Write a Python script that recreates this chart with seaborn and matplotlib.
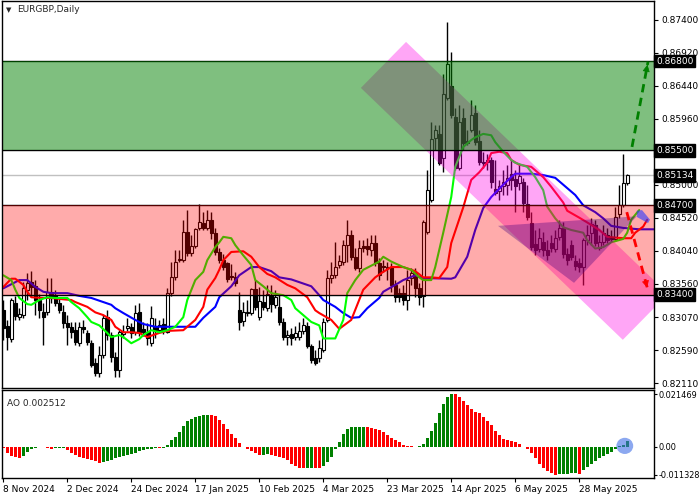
import numpy as np
import matplotlib
matplotlib.use("Agg")
import matplotlib.pyplot as plt
from matplotlib.patches import Polygon, Ellipse
import seaborn as sns

# EURGBP daily candles (bar 0 = 8 Nov 2024)
opens = [0.8317, 0.8294, 0.8275, 0.8328, 0.8307, 0.8310, 0.8347, 0.8358, 0.8352, 0.8332,
         0.8315, 0.8315, 0.8344, 0.8339, 0.8328, 0.8315, 0.8298, 0.8293, 0.8288, 0.8269,
         0.8293, 0.8284, 0.8269, 0.8240, 0.8226, 0.8252, 0.8307, 0.8281, 0.8249, 0.8230,
         0.8282, 0.8291, 0.8293, 0.8285, 0.8315, 0.8290, 0.8285, 0.8269, 0.8293, 0.8288,
         0.8297, 0.8285, 0.8342, 0.8366, 0.8390, 0.8390, 0.8431, 0.8400, 0.8411, 0.8437,
         0.8444, 0.8437, 0.8449, 0.8430, 0.8402, 0.8390, 0.8386, 0.8367, 0.8366, 0.8317,
         0.8301, 0.8313, 0.8313, 0.8348, 0.8307, 0.8329, 0.8320, 0.8339, 0.8325, 0.8322,
         0.8300, 0.8278, 0.8282, 0.8278, 0.8278, 0.8287, 0.8294, 0.8265, 0.8247, 0.8247,
         0.8259, 0.8303, 0.8364, 0.8368, 0.8383, 0.8387, 0.8412, 0.8427, 0.8395, 0.8379,
         0.8411, 0.8411, 0.8405, 0.8415, 0.8386, 0.8381, 0.8380, 0.8380, 0.8354, 0.8342,
         0.8342, 0.8332, 0.8364, 0.8371, 0.8349, 0.8338, 0.8431, 0.8478, 0.8568, 0.8574,
         0.8539, 0.8627, 0.8644, 0.8598, 0.8524, 0.8597, 0.8564, 0.8580, 0.8604, 0.8564,
         0.8533, 0.8533, 0.8536, 0.8494, 0.8491, 0.8498, 0.8500, 0.8516, 0.8508, 0.8502,
         0.8504, 0.8472, 0.8444, 0.8413, 0.8407, 0.8416, 0.8405, 0.8415, 0.8406, 0.8424,
         0.8437, 0.8399, 0.8412, 0.8389, 0.8386, 0.8380, 0.8419, 0.8430, 0.8441, 0.8408,
         0.8416, 0.8427, 0.8424, 0.8421, 0.8458, 0.8470, 0.8502]
highs = [0.8332, 0.8303, 0.8335, 0.8338, 0.8320, 0.8358, 0.8371, 0.8374, 0.8361, 0.8341,
         0.8328, 0.8364, 0.8364, 0.8347, 0.8335, 0.8325, 0.8310, 0.8300, 0.8300, 0.8300,
         0.8303, 0.8288, 0.8274, 0.8247, 0.8265, 0.8310, 0.8317, 0.8285, 0.8256, 0.8288,
         0.8296, 0.8306, 0.8298, 0.8325, 0.8328, 0.8300, 0.8298, 0.8323, 0.8306, 0.8303,
         0.8306, 0.8349, 0.8387, 0.8405, 0.8405, 0.8449, 0.8463, 0.8427, 0.8437, 0.8472,
         0.8460, 0.8463, 0.8460, 0.8437, 0.8408, 0.8399, 0.8387, 0.8384, 0.8373, 0.8344,
         0.8329, 0.8332, 0.8349, 0.8361, 0.8351, 0.8347, 0.8354, 0.8354, 0.8347, 0.8339,
         0.8306, 0.8288, 0.8291, 0.8294, 0.8300, 0.8306, 0.8300, 0.8268, 0.8259, 0.8274,
         0.8306, 0.8376, 0.8387, 0.8416, 0.8397, 0.8419, 0.8449, 0.8434, 0.8408, 0.8419,
         0.8419, 0.8422, 0.8427, 0.8427, 0.8393, 0.8390, 0.8387, 0.8386, 0.8361, 0.8349,
         0.8354, 0.8376, 0.8378, 0.8378, 0.8357, 0.8449, 0.8521, 0.8591, 0.8587, 0.8587,
         0.8661, 0.8737, 0.8693, 0.8612, 0.8616, 0.8612, 0.8580, 0.8623, 0.8616, 0.8580,
         0.8548, 0.8545, 0.8540, 0.8536, 0.8507, 0.8521, 0.8529, 0.8536, 0.8521, 0.8529,
         0.8510, 0.8500, 0.8460, 0.8434, 0.8437, 0.8431, 0.8419, 0.8427, 0.8434, 0.8449,
         0.8446, 0.8408, 0.8419, 0.8397, 0.8393, 0.8422, 0.8441, 0.8451, 0.8449, 0.8427,
         0.8441, 0.8437, 0.8434, 0.8468, 0.8500, 0.8545, 0.8516]
lows = [0.8274, 0.8259, 0.8271, 0.8303, 0.8303, 0.8306, 0.8332, 0.8338, 0.8310, 0.8306,
        0.8266, 0.8310, 0.8328, 0.8323, 0.8313, 0.8291, 0.8266, 0.8276, 0.8266, 0.8265,
        0.8284, 0.8266, 0.8234, 0.8221, 0.8220, 0.8247, 0.8274, 0.8242, 0.8220, 0.8220,
        0.8276, 0.8287, 0.8276, 0.8281, 0.8279, 0.8279, 0.8266, 0.8265, 0.8276, 0.8285,
        0.8282, 0.8284, 0.8338, 0.8361, 0.8387, 0.8387, 0.8396, 0.8396, 0.8408, 0.8434,
        0.8434, 0.8434, 0.8421, 0.8397, 0.8386, 0.8376, 0.8358, 0.8361, 0.8352, 0.8288,
        0.8294, 0.8309, 0.8310, 0.8317, 0.8303, 0.8317, 0.8316, 0.8315, 0.8320, 0.8296,
        0.8274, 0.8266, 0.8266, 0.8274, 0.8274, 0.8282, 0.8262, 0.8240, 0.8237, 0.8242,
        0.8256, 0.8300, 0.8357, 0.8364, 0.8378, 0.8383, 0.8387, 0.8390, 0.8376, 0.8373,
        0.8402, 0.8397, 0.8396, 0.8381, 0.8361, 0.8373, 0.8361, 0.8344, 0.8329, 0.8329,
        0.8325, 0.8317, 0.8354, 0.8336, 0.8325, 0.8322, 0.8428, 0.8475, 0.8551, 0.8529,
        0.8518, 0.8623, 0.8597, 0.8521, 0.8521, 0.8551, 0.8558, 0.8577, 0.8558, 0.8529,
        0.8524, 0.8521, 0.8495, 0.8485, 0.8478, 0.8485, 0.8485, 0.8492, 0.8460, 0.8492,
        0.8460, 0.8449, 0.8405, 0.8397, 0.8402, 0.8396, 0.8390, 0.8402, 0.8402, 0.8419,
        0.8393, 0.8383, 0.8390, 0.8376, 0.8373, 0.8354, 0.8412, 0.8412, 0.8411, 0.8405,
        0.8412, 0.8415, 0.8416, 0.8418, 0.8451, 0.8467, 0.8500]
closes = [0.8291, 0.8278, 0.8332, 0.8309, 0.8312, 0.8349, 0.8357, 0.8351, 0.8332, 0.8317,
          0.8307, 0.8344, 0.8335, 0.8328, 0.8317, 0.8298, 0.8293, 0.8285, 0.8271, 0.8293,
          0.8290, 0.8271, 0.8237, 0.8226, 0.8252, 0.8306, 0.8281, 0.8249, 0.8230, 0.8285,
          0.8285, 0.8294, 0.8284, 0.8313, 0.8285, 0.8285, 0.8276, 0.8306, 0.8288, 0.8296,
          0.8287, 0.8342, 0.8366, 0.8387, 0.8392, 0.8431, 0.8400, 0.8411, 0.8435, 0.8446,
          0.8437, 0.8449, 0.8430, 0.8402, 0.8390, 0.8380, 0.8362, 0.8366, 0.8357, 0.8300,
          0.8315, 0.8315, 0.8348, 0.8322, 0.8331, 0.8322, 0.8341, 0.8326, 0.8336, 0.8300,
          0.8278, 0.8281, 0.8276, 0.8284, 0.8287, 0.8296, 0.8265, 0.8245, 0.8240, 0.8262,
          0.8300, 0.8364, 0.8368, 0.8380, 0.8389, 0.8412, 0.8427, 0.8395, 0.8379, 0.8408,
          0.8408, 0.8406, 0.8415, 0.8386, 0.8368, 0.8380, 0.8379, 0.8354, 0.8336, 0.8336,
          0.8332, 0.8361, 0.8371, 0.8349, 0.8336, 0.8446, 0.8492, 0.8567, 0.8580, 0.8532,
          0.8632, 0.8676, 0.8601, 0.8524, 0.8591, 0.8561, 0.8561, 0.8601, 0.8562, 0.8533,
          0.8532, 0.8536, 0.8504, 0.8488, 0.8498, 0.8504, 0.8510, 0.8507, 0.8498, 0.8513,
          0.8473, 0.8453, 0.8409, 0.8405, 0.8422, 0.8405, 0.8397, 0.8408, 0.8422, 0.8437,
          0.8399, 0.8390, 0.8395, 0.8381, 0.8380, 0.8419, 0.8427, 0.8443, 0.8415, 0.8416,
          0.8430, 0.8419, 0.8421, 0.8453, 0.8470, 0.8502, 0.85134]

# Alligator lines (jaw / teeth / lips), sampled along the chart, x = bar number
jaw_x = [0, 4, 6, 8, 10, 12, 16, 19, 22, 24, 27, 28, 30, 33, 35, 38, 40, 45, 48, 50,
         53, 54, 57, 59, 62, 64, 67, 69, 72, 74, 77, 79, 80, 83, 85, 87, 89, 91, 94, 95,
         98, 100, 103, 105, 112, 113, 116, 118, 120, 122, 125, 127, 128, 132, 135, 138, 140, 143, 145, 148,
         150, 152, 155, 159, 164]
jaw_y = [0.8349, 0.8361, 0.8361, 0.8351, 0.8344, 0.8342, 0.8342, 0.8338, 0.8335, 0.8331,
         0.8325, 0.8320, 0.8313, 0.8303, 0.8297, 0.8293, 0.8293, 0.8293, 0.8293, 0.8306,
         0.8322, 0.8336, 0.8352, 0.8368, 0.8380, 0.8380, 0.8374, 0.8365, 0.8362, 0.8358,
         0.8352, 0.8339, 0.8332, 0.8322, 0.8313, 0.8306, 0.8307, 0.8320, 0.8335, 0.8344,
         0.8354, 0.8361, 0.8368, 0.8364, 0.8363, 0.8365, 0.8395, 0.8434, 0.8466, 0.8482,
         0.8500, 0.8511, 0.8516, 0.8516, 0.8514, 0.8510, 0.8500, 0.8485, 0.8470, 0.8460,
         0.8451, 0.8440, 0.8437, 0.8435, 0.8435]
teeth_x = [0, 2, 3, 5, 6, 7, 10, 12, 15, 17, 18, 21, 23, 25, 27, 28, 30, 32, 34, 36,
           39, 41, 45, 46, 48, 50, 51, 53, 54, 55, 57, 60, 62, 64, 66, 68, 71, 73, 76, 78,
           79, 82, 84, 87, 90, 93, 95, 97, 100, 103, 105, 107, 109, 111, 112, 115, 117, 119, 121, 122,
           124, 126, 127, 129, 132, 133, 135, 137, 140, 141, 144, 146, 149, 151, 155, 157, 158, 160, 161]
teeth_y = [0.8351, 0.8363, 0.8363, 0.8354, 0.8344, 0.8336, 0.8335, 0.8335, 0.8333, 0.8332,
           0.8329, 0.8322, 0.8314, 0.8310, 0.8303, 0.8293, 0.8285, 0.8285, 0.8284, 0.8278,
           0.8284, 0.8287, 0.8288, 0.8293, 0.8303, 0.8322, 0.8347, 0.8364, 0.8376, 0.8390,
           0.8402, 0.8403, 0.8395, 0.8380, 0.8370, 0.8365, 0.8354, 0.8349, 0.8336, 0.8317,
           0.8313, 0.8303, 0.8290, 0.8303, 0.8347, 0.8365, 0.8373, 0.8380, 0.8380, 0.8374,
           0.8365, 0.8365, 0.8364, 0.8380, 0.8415, 0.8467, 0.8507, 0.8518, 0.8532, 0.8546,
           0.8548, 0.8546, 0.8536, 0.8529, 0.8526, 0.8521, 0.8511, 0.8497, 0.8474, 0.8462,
           0.8452, 0.8445, 0.8434, 0.8424, 0.8422, 0.8422, 0.8430, 0.8439, 0.8449]
lips_x = [0, 2, 3, 4, 6, 7, 9, 11, 13, 16, 17, 19, 21, 22, 24, 26, 27, 29, 30, 32,
          34, 35, 37, 39, 41, 43, 45, 46, 48, 50, 51, 53, 54, 55, 57, 58, 60, 62, 63, 65,
          67, 70, 72, 73, 75, 77, 79, 80, 83, 85, 86, 88, 90, 91, 94, 95, 97, 100, 102, 104,
          105, 107, 108, 110, 112, 113, 115, 117, 118, 120, 122, 123, 125, 127, 128, 131, 133, 135, 136, 138,
          140, 142, 145, 146, 148, 150, 152, 155, 156, 157, 159]
lips_y = [0.8368, 0.8361, 0.8347, 0.8335, 0.8326, 0.8325, 0.8332, 0.8336, 0.8335, 0.8335,
          0.8329, 0.8320, 0.8307, 0.8300, 0.8295, 0.8284, 0.8278, 0.8281, 0.8278, 0.8269,
          0.8275, 0.8281, 0.8288, 0.8285, 0.8288, 0.8293, 0.8307, 0.8332, 0.8361, 0.8373,
          0.8390, 0.8409, 0.8416, 0.8424, 0.8422, 0.8412, 0.8397, 0.8383, 0.8361, 0.8352,
          0.8342, 0.8339, 0.8332, 0.8320, 0.8310, 0.8300, 0.8295, 0.8276, 0.8276, 0.8303,
          0.8342, 0.8361, 0.8376, 0.8379, 0.8388, 0.8395, 0.8388, 0.8380, 0.8376, 0.8365,
          0.8361, 0.8361, 0.8380, 0.8430, 0.8482, 0.8526, 0.8555, 0.8565, 0.8569, 0.8574,
          0.8572, 0.8562, 0.8548, 0.8536, 0.8532, 0.8526, 0.8511, 0.8492, 0.8468, 0.8451,
          0.8438, 0.8434, 0.8430, 0.8419, 0.8407, 0.8409, 0.8416, 0.8421, 0.8430, 0.8449,
          0.8463]

# Awesome Oscillator, one value per bar
ao = [-0.0003, -0.0023, -0.0036, -0.0042, -0.0047, -0.0037, -0.0020, -0.0010, -0.0005, -0.0002,
      -0.0001, -0.0004, -0.0007, -0.0005, -0.0004, -0.0003, -0.0013, -0.0023, -0.0034, -0.0042,
      -0.0047, -0.0051, -0.0055, -0.0059, -0.0064, -0.0063, -0.0058, -0.0053, -0.0047, -0.0042,
      -0.0038, -0.0032, -0.0028, -0.0023, -0.0018, -0.0012, -0.0009, -0.0007, -0.0004, -0.0005,
      -0.0003, 0.0009, 0.0026, 0.0042, 0.0061, 0.0084, 0.0104, 0.0113, 0.0120, 0.0127,
      0.0131, 0.0132, 0.0131, 0.0126, 0.0111, 0.0093, 0.0074, 0.0054, 0.0036, 0.0017,
      0.0000, -0.0007, -0.0016, -0.0026, -0.0034, -0.0033, -0.0031, -0.0033, -0.0036, -0.0042,
      -0.0047, -0.0055, -0.0068, -0.0078, -0.0085, -0.0088, -0.0086, -0.0085, -0.0086, -0.0088,
      -0.0078, -0.0061, -0.0042, -0.0009, 0.0020, 0.0051, 0.0072, 0.0080, 0.0081, 0.0082,
      0.0083, 0.0080, 0.0078, 0.0074, 0.0068, 0.0061, 0.0050, 0.0036, 0.0026, 0.0018,
      0.0009, 0.0004, 0.0003, 0.0001, 0.0003, 0.0012, 0.0036, 0.0063, 0.0099, 0.0137,
      0.0176, 0.0203, 0.021469, 0.0214, 0.0203, 0.0188, 0.0171, 0.0153, 0.0143, 0.0137,
      0.0120, 0.0105, 0.0088, 0.0063, 0.0047, 0.0032, 0.0027, 0.0022, 0.0018, 0.0012,
      0.0001, -0.0009, -0.0027, -0.0047, -0.0068, -0.0085, -0.0099, -0.0106, -0.011328, -0.0111,
      -0.0110, -0.0109, -0.0108, -0.0106, -0.0112, -0.0095, -0.0081, -0.0069, -0.0057, -0.0047,
      -0.0038, -0.0028, -0.0019, -0.0009, 0.0003, 0.0009, 0.002512]

# levels and drawn objects (bar number, price)
green_zone = (0.85500, 0.86800)
red_zone = (0.83400, 0.84700)
current_price = 0.85134
box_levels = [0.86800, 0.85500, 0.85134, 0.84700, 0.83400]
price_ticks = [0.87400, 0.86920, 0.86440, 0.85960, 0.85000, 0.84520,
               0.84040, 0.83560, 0.83070, 0.82590, 0.82110]
channel_x = [100.7, 166.2, 154.9, 89.4]
channel_y = [0.8708, 0.8341, 0.8274, 0.8641]
triangle_x = [123.7, 158.4, 142.7]
triangle_y = [0.8440, 0.8454, 0.8357]
flag_x = [158.4, 159.7, 161.7, 161.2, 158.4]
flag_y = [0.8462, 0.8463, 0.8449, 0.8444, 0.8453]
up_arrow = [(157.2, 0.8555), (161.2, 0.8679)]
down_arrow = [(155.9, 0.8460), (161.2, 0.8346)]

date_labels = ["8 Nov 2024", "2 Dec 2024", "24 Dec 2024", "17 Jan 2025", "10 Feb 2025",
               "4 Mar 2025", "23 Mar 2025", "14 Apr 2025", "6 May 2025", "28 May 2025"]
date_bars = [0, 16, 32, 48, 64, 80, 96, 112, 128, 144]
ao_ticks = [0.021469, 0.0, -0.011328]
ao_tick_labels = ["0.021469", "0.00", "-0.011328"]

sns.set_style("white", {"axes.edgecolor": "black"})
plt.rcParams["font.family"] = ["DejaVu Sans"]
FS = 6.5

fig = plt.figure(figsize=(7, 5), dpi=100)
ax = fig.add_axes([2 / 700, 1 - 388 / 500, 652 / 700, 387 / 500])
ax_ao = fig.add_axes([2 / 700, 1 - 478 / 500, 652 / 700, 88 / 500], sharex=ax)

# candles
o = np.array(opens)
c = np.array(closes)
idx = np.arange(len(c))
bull = c >= o
ax.axhline(current_price, color="#c0c0c0", lw=1, zorder=1)
ax.vlines(idx, lows, highs, color="black", lw=1, zorder=2)
ax.bar(idx, np.maximum(np.abs(c - o), 0.00004), bottom=np.minimum(o, c), width=0.72,
       color=np.where(bull, "white", "black"), edgecolor="black", linewidth=0.8, zorder=3)

# alligator
for xs, ys, col in [(jaw_x, jaw_y, "#0000ff"), (teeth_x, teeth_y, "#ff0000"), (lips_x, lips_y, "#00ff00")]:
    sns.lineplot(x=xs, y=ys, ax=ax, color=col, lw=1.5, estimator=None, sort=False, zorder=4)

# channel and zones (semi transparent, on top like the terminal draws them)
ax.add_patch(Polygon(list(zip(channel_x, channel_y)), closed=True, fc="#ff00e6", ec="none", alpha=0.35, zorder=5))
for lvl in [*green_zone, *red_zone]:
    ax.axhline(lvl, color="black", lw=1, zorder=5.5)
ax.axhspan(*green_zone, color="#008000", alpha=0.5, lw=0, zorder=6)
ax.axhspan(*red_zone, color="#ff0000", alpha=0.33, lw=0, zorder=6)
ax.add_patch(Polygon(list(zip(triangle_x, triangle_y)), closed=True, fc="#46007f", ec="none", alpha=0.35, zorder=7))
ax.add_patch(Polygon(list(zip(flag_x, flag_y)), closed=True, fc="#2838ff", ec="none", alpha=0.6, zorder=7))

# dashed forecast arrows
for (p0, p1), col in [(up_arrow, "#008000"), (down_arrow, "#ff0000")]:
    ax.plot([p0[0], p1[0]], [p0[1], p1[1]], color=col, lw=2, ls=(0, (3, 2)), zorder=8)
    back = (p1[0] - 0.12 * (p1[0] - p0[0]), p1[1] - 0.12 * (p1[1] - p0[1]))
    ax.annotate("", xy=p1, xytext=back, zorder=8,
                arrowprops=dict(arrowstyle="-|>", color=col, lw=0.5, mutation_scale=11))

ax.set_xlim(-0.33, 162.7)
ax.set_ylim(0.82038, 0.87676)
ax.yaxis.tick_right()
ax.set_yticks(price_ticks)
ax.set_yticklabels([f"{t:.5f}" for t in price_ticks], fontsize=FS)
ax.tick_params(axis="y", direction="out", length=3, width=0.8, pad=2, right=True, colors="black")
ax.tick_params(axis="x", bottom=False, labelbottom=False)
ax.set_xlabel("")
ax.set_ylabel("")
for lvl in box_levels:
    ax.text(1.0035, lvl, f"{lvl:.5f}", transform=ax.get_yaxis_transform(), color="white",
            fontsize=FS, va="center", ha="left", clip_on=False, zorder=20,
            bbox=dict(boxstyle="square,pad=0.2", fc="black", ec="black"))

fig.text(6 / 700, 1 - 10 / 500, "\u25bc", fontsize=5, va="center")
fig.text(17 / 700, 1 - 10 / 500, "EURGBP,Daily", fontsize=FS, va="center")

# AO panel
ao = np.array(ao)
ao_cols = ["#ff0000"] + ["#008000" if ao[i] > ao[i - 1] else "#ff0000" for i in range(1, len(ao))]
ax_ao.bar(np.arange(len(ao)), ao, width=0.65, color=ao_cols, lw=0, zorder=2)
ax_ao.add_patch(Ellipse((155.4, 0.0004), 4.2, 0.0066, fc="#3f6fe6", ec="none", alpha=0.6, zorder=3))
ax_ao.set_ylim(-0.0127, 0.0232)
ax_ao.yaxis.tick_right()
ax_ao.set_yticks(ao_ticks)
ax_ao.set_yticklabels(ao_tick_labels, fontsize=5.9)
ax_ao.tick_params(axis="y", direction="out", length=2, width=0.8, pad=1, colors="black")
ax_ao.set_xticks(date_bars)
ax_ao.set_xticklabels(date_labels, fontsize=FS, ha="left")
ax_ao.tick_params(axis="x", direction="out", length=3, width=0.8, pad=2, bottom=True, colors="black")
ax_ao.text(0.008, 0.85, "AO 0.002512", transform=ax_ao.transAxes, fontsize=FS, va="center")

for a in (ax, ax_ao):
    for s in a.spines.values():
        s.set_color("black")
        s.set_linewidth(1)
        s.set_zorder(30)

fig.savefig("out.png", dpi=100)
